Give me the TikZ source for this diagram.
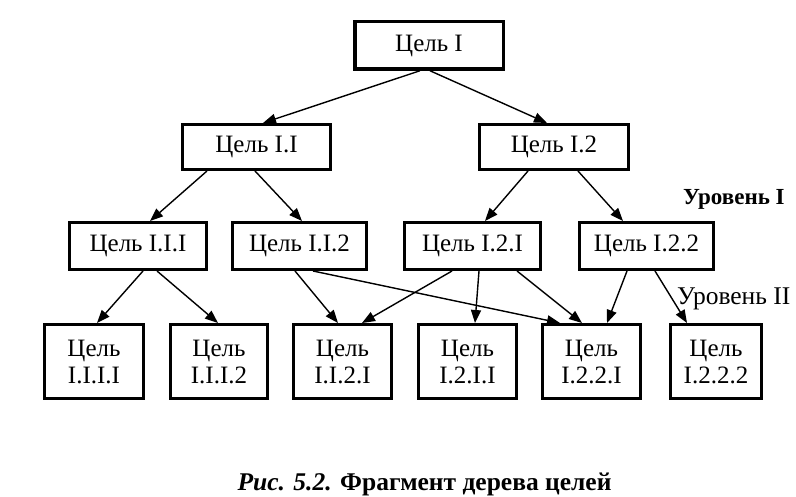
\documentclass[tikz,border=0pt]{standalone}
\usepackage{fontspec}
\setmainfont{Liberation Serif}
\usetikzlibrary{arrows.meta}
\begin{document}
\begin{tikzpicture}[x=1pt,y=-1pt,
  box/.style={draw,line width=3pt,inner sep=0pt,outer sep=1.5pt,align=center,
    font=\fontsize{25}{27}\selectfont},
  arr/.style={line width=1.4pt,-{Triangle[length=13pt,width=10pt]}},
  lvl/.style={anchor=base west,inner sep=0pt}]
\useasboundingbox (0,0) rectangle (796,497);
% level 0
\node[box,line width=3.5pt,minimum width=148.5pt,minimum height=47.5pt] (c) at (429,45.5) {Цель I};
% level 1
\node[box,minimum width=148pt,minimum height=45pt] (c1) at (256.5,147) {Цель I.I};
\node[box,minimum width=149pt,minimum height=45pt] (c2) at (554,147) {Цель I.2};
% level 2
\node[box,minimum width=137pt,minimum height=47pt] (c11) at (138,246) {Цель I.I.I};
\node[box,minimum width=134pt,minimum height=47pt] (c12) at (299.5,246) {Цель I.I.2};
\node[box,minimum width=136pt,minimum height=47pt] (c21) at (472.5,246) {Цель I.2.I};
\node[box,minimum width=134pt,minimum height=47pt] (c22) at (646.5,246) {Цель I.2.2};
% level 3
\node[box,minimum width=99pt,minimum height=74pt] (c111) at (94,361.5) {Цель\\I.I.I.I};
\node[box,minimum width=97pt,minimum height=74pt] (c112) at (219,361.5) {Цель\\I.I.I.2};
\node[box,minimum width=98pt,minimum height=74pt] (c121) at (342.5,361.5) {Цель\\I.I.2.I};
\node[box,minimum width=98pt,minimum height=74pt] (c211) at (467.5,361.5) {Цель\\I.2.I.I};
\node[box,minimum width=98pt,minimum height=74pt] (c221) at (591.5,361.5) {Цель\\I.2.2.I};
\node[box,minimum width=91pt,minimum height=74pt] (c222) at (716,361.5) {Цель\\I.2.2.2};
% labels
\node[lvl,font=\fontsize{23}{27}\selectfont\bfseries] (u1) at (683,205) {Уровень I};
\node[lvl,font=\fontsize{25.5}{27}\selectfont] (u2) at (677,305) {Уровень II};
\node[anchor=base,inner sep=0pt,font=\fontsize{25.5}{28}\selectfont\bfseries] (cap) at (424.5,490)
  {\textit{Рис. 5.2.} Фрагмент дерева целей};
% arrows
\draw[arr] ([xshift=-9pt]c.south) -- ([xshift=6.5pt]c1.north);
\draw[arr] ([xshift=1pt]c.south) -- ([xshift=-7pt]c2.north);
\draw[arr] ([xshift=-49.5pt]c1.south) -- ([xshift=12pt]c11.north);
\draw[arr] ([xshift=-1.5pt]c1.south) -- ([xshift=2.5pt]c12.north);
\draw[arr] ([xshift=-26pt]c2.south) -- ([xshift=12.5pt]c21.north);
\draw[arr] ([xshift=24pt]c2.south) -- ([xshift=-23.5pt]c22.north);
\draw[arr] ([xshift=5pt]c11.south) -- ([xshift=3pt]c111.north);
\draw[arr] ([xshift=19pt]c11.south) -- ([xshift=-1pt]c112.north);
\draw[arr] ([xshift=-4.5pt]c12.south) -- ([xshift=-4.5pt]c121.north);
\draw[arr] ([xshift=13.5pt]c12.south) -- ([xshift=-31.5pt]c221.north);
\draw[arr] ([xshift=-20.5pt]c21.south) -- ([xshift=19.5pt]c121.north);
\draw[arr] ([xshift=6.5pt]c21.south) -- ([xshift=7.5pt]c211.north);
\draw[arr] ([xshift=44.5pt]c21.south) -- ([xshift=-9.5pt]c221.north);
\draw[arr] ([xshift=-19.5pt]c22.south) -- ([xshift=15.5pt]c221.north);
\draw[arr] ([xshift=8.5pt]c22.south) -- ([xshift=-29pt]c222.north);
\end{tikzpicture}
\end{document}
